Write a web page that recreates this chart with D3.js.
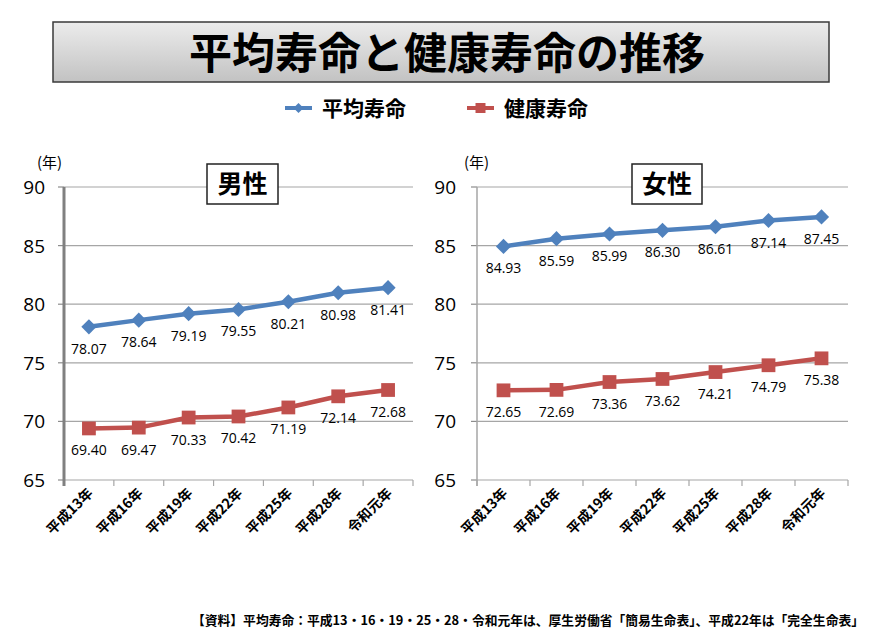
<!DOCTYPE html>
<html><head><meta charset="utf-8">
<script src="https://cdn.jsdelivr.net/npm/d3@7"></script>
<style>
body{margin:0;background:#fff;}
svg{display:block;font-family:"Noto Sans CJK JP","Noto Sans",sans-serif;}
</style></head>
<body>
<svg id="c" width="893" height="630"></svg>
<script>
const categories = ["平成13年","平成16年","平成19年","平成22年","平成25年","平成28年","令和元年"];
const maleAvg = [78.07,78.64,79.19,79.55,80.21,80.98,81.41];
const maleHealthy = [69.40,69.47,70.33,70.42,71.19,72.14,72.68];
const femaleAvg = [84.93,85.59,85.99,86.30,86.61,87.14,87.45];
const femaleHealthy = [72.65,72.69,73.36,73.62,74.21,74.79,75.38];
const yTicks = [65,70,75,80,85,90];
const seriesNames = ["平均寿命","健康寿命"];
const panelTitles = ["男性","女性"];
const titleText = "平均寿命と健康寿命の推移";
const footerText = "【資料】平均寿命：平成13・16・19・25・28・令和元年は、厚生労働省「簡易生命表」、平成22年は「完全生命表」";

const blue = "#4F81BD", red = "#C0504D";
const svg = d3.select("#c");

const defs = svg.append("defs");
const grad = defs.append("linearGradient").attr("id","tg").attr("x1",0).attr("y1",0).attr("x2",0).attr("y2",1);
grad.append("stop").attr("offset","0%").attr("stop-color","#ececec");
grad.append("stop").attr("offset","100%").attr("stop-color","#c2c2c2");
svg.append("rect").attr("x",53).attr("y",22).attr("width",776).attr("height",60)
  .attr("fill","url(#tg)").attr("stroke","#3a3a3a").attr("stroke-width",1.5);
svg.append("text").attr("x",447).attr("y",69).attr("text-anchor","middle")
  .attr("font-size",43).attr("font-weight",700).attr("fill","#000").text(titleText);

const diamondPath = d3.symbol().type(d3.symbolSquare);
const legend = [{name:seriesNames[0],color:blue,shape:"diamond",x:285},{name:seriesNames[1],color:red,shape:"square",x:467}];
legend.forEach(l=>{
  const g = svg.append("g");
  g.append("line").attr("x1",l.x).attr("x2",l.x+27).attr("y1",108).attr("y2",108).attr("stroke",l.color).attr("stroke-width",4);
  g.append("path").attr("d",d3.symbol().type(d3.symbolSquare).size(l.shape==="diamond"?50:100)())
    .attr("transform",`translate(${l.x+13.5},108)${l.shape==="diamond"?" rotate(45)":""}`).attr("fill",l.color);
  g.append("text").attr("x",l.x+37).attr("y",116).attr("font-size",21).attr("font-weight",700).attr("fill","#000").text(l.name);
});

const panels = [
  {x0:64,x1:413,avg:maleAvg,healthy:maleHealthy,title:panelTitles[0],thickAxis:true,boxX:207,boxW:71,labelX:45,unitX:37},
  {x0:477,x1:848,avg:femaleAvg,healthy:femaleHealthy,title:panelTitles[1],thickAxis:false,boxX:632,boxW:70,labelX:456,unitX:464}
];

panels.forEach(p=>{
  const g = svg.append("g");
  const x = d3.scaleBand().domain(categories).range([p.x0,p.x1]);
  const y = d3.scaleLinear().domain([65,90]).range([480,187]);

  g.selectAll(".grid").data(yTicks).join("line")
    .attr("x1",p.x0).attr("x2",p.x1).attr("y1",d=>y(d)).attr("y2",d=>y(d))
    .attr("stroke","#a6a6a6").attr("stroke-width",1.2);
  g.selectAll(".yt").data(yTicks).join("line")
    .attr("x1",p.x0-6).attr("x2",p.x0).attr("y1",d=>y(d)).attr("y2",d=>y(d))
    .attr("stroke","#8c8c8c").attr("stroke-width",1.2);
  g.selectAll(".yl").data(yTicks).join("text")
    .attr("x",p.labelX).attr("y",d=>y(d)+7).attr("text-anchor","end")
    .attr("font-size",19).attr("fill","#000").attr("font-family","'Open Sans','Noto Sans',sans-serif").text(d=>d);
  const bounds = categories.map(c=>x(c)).concat([p.x1]);
  g.selectAll(".xt").data(bounds).join("line")
    .attr("x1",d=>d).attr("x2",d=>d).attr("y1",480).attr("y2",486)
    .attr("stroke","#a6a6a6").attr("stroke-width",1.2);
  g.append("line").attr("x1",p.x0).attr("x2",p.x0).attr("y1",187).attr("y2",486)
    .attr("stroke",p.thickAxis?"#808080":"#a6a6a6").attr("stroke-width",p.thickAxis?3:1.5);
  g.append("text").attr("x",p.unitX).attr("y",168).attr("font-size",15).attr("fill","#000").text("(年)");
  g.selectAll(".xl").data(categories).join("text")
    .attr("transform",d=>`translate(${x(d)+x.bandwidth()/2+5},${494}) rotate(-45)`)
    .attr("text-anchor","end").attr("font-size",14).attr("font-weight",700).attr("fill","#000").text(d=>d);

  const line = d3.line().x((d,i)=>x(categories[i])+x.bandwidth()/2).y(d=>y(d));
  [{data:p.avg,color:blue,diamond:true,size:115},{data:p.healthy,color:red,diamond:false,size:190}].forEach(s=>{
    g.append("path").attr("d",line(s.data)).attr("fill","none").attr("stroke",s.color).attr("stroke-width",4.5).attr("stroke-linejoin","round");
    g.selectAll(null).data(s.data).join("path")
      .attr("d",d3.symbol().type(d3.symbolSquare).size(s.size)())
      .attr("transform",(d,i)=>`translate(${x(categories[i])+x.bandwidth()/2},${y(d)})${s.diamond?" rotate(45)":""}`)
      .attr("fill",s.color);
    g.selectAll(null).data(s.data).join("text")
      .attr("x",(d,i)=>x(categories[i])+x.bandwidth()/2).attr("y",d=>y(d)+27)
      .attr("text-anchor","middle").attr("font-size",14).attr("fill","#000")
      .attr("font-family","'Open Sans','Noto Sans',sans-serif").text(d=>d.toFixed(2));
  });

  g.append("rect").attr("x",p.boxX).attr("y",164).attr("width",p.boxW).attr("height",40)
    .attr("fill","#fff").attr("stroke","#222").attr("stroke-width",1.5);
  g.append("text").attr("x",p.boxX+p.boxW/2).attr("y",193).attr("text-anchor","middle")
    .attr("font-size",25).attr("font-weight",700).attr("fill","#000").text(p.title);
});

svg.append("text").attr("x",864).attr("y",625).attr("text-anchor","end")
  .attr("textLength",672).attr("lengthAdjust","spacingAndGlyphs")
  .attr("font-size",13).attr("font-weight",700).attr("fill","#000").text(footerText);
</script>
</body></html>
